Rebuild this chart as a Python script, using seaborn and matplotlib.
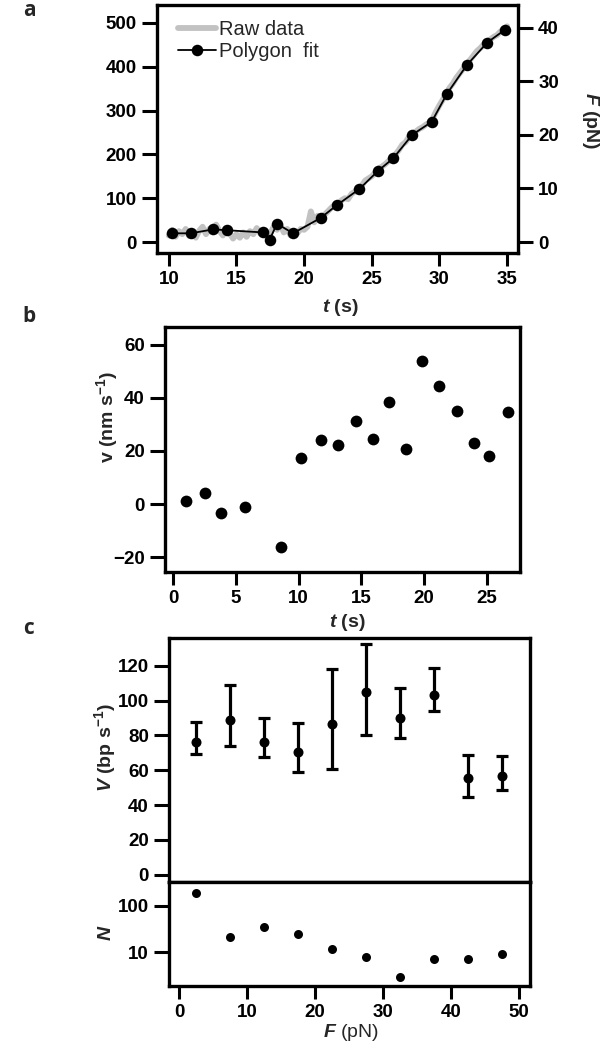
import numpy as np
import pandas as pd
import seaborn as sns
import matplotlib
matplotlib.use("Agg")
import matplotlib.pyplot as plt
from matplotlib.ticker import FixedLocator, NullLocator, FixedFormatter

# ---- panel a: raw trace and polygon fit ----
raw_t = [10.00, 10.25, 10.50, 10.75, 11.00, 11.25, 11.50, 11.75, 12.00, 12.25,
         12.50, 12.75, 13.00, 13.25, 13.50, 13.75, 14.00, 14.25, 14.50, 14.75,
         15.00, 15.25, 15.50, 15.75, 16.00, 16.25, 16.50, 16.75, 17.00, 17.25,
         17.50, 17.75, 18.00, 18.25, 18.50, 18.75, 19.00, 19.25, 19.50, 19.75,
         20.00, 20.25, 20.50, 20.75, 21.00, 21.25, 21.50, 21.75, 22.00, 22.25,
         22.50, 22.75, 23.00, 23.25, 23.50, 23.75, 24.00, 24.25, 24.50, 24.75,
         25.00, 25.25, 25.50, 25.75, 26.00, 26.25, 26.50, 26.75, 27.00, 27.25,
         27.50, 27.75, 28.00, 28.25, 28.50, 28.75, 29.00, 29.25, 29.50, 29.75,
         30.00, 30.25, 30.50, 30.75, 31.00, 31.25, 31.50, 31.75, 32.00, 32.25,
         32.50, 32.75, 33.00, 33.25, 33.50, 33.75, 34.00, 34.25, 34.50, 34.75,
         35.00]
raw_x = [15, 28, 12, 25, 18, 30, 14, 22, 10, 26,
         35, 18, 30, 22, 40, 25, 15, 32, 20, 8,
         18, 10, 22, 12, 25, 18, 32, 20, 28, 12,
         20, 35, 28, 40, 22, 30, 15, 25, 20, 30,
         28, 35, 70, 45, 60, 48, 62, 70, 78, 85,
         82, 95, 100, 98, 110, 115, 122, 128, 140, 145,
         150, 158, 168, 172, 178, 185, 192, 200, 210, 222,
         228, 240, 248, 252, 258, 262, 268, 272, 282, 298,
         312, 325, 340, 352, 362, 375, 385, 395, 405, 415,
         425, 435, 442, 450, 458, 462, 468, 472, 480, 486,
         492]
fit_t = [10.26, 11.62, 13.29, 14.31, 16.97, 17.45, 17.99, 19.18, 21.22, 22.41,
         24.08, 25.45, 26.58, 28.00, 29.42, 30.55, 32.03, 33.53, 34.83]
fit_x = [20, 20, 29, 27, 22, 5, 42, 20, 55, 84,
         121, 162, 191, 245, 274, 338, 404, 455, 484]

# ---- panel b: velocity vs time ----
vel_t = [0.98, 2.51, 3.83, 5.70, 8.58, 10.20, 11.80, 13.17, 14.61, 15.90,
         17.22, 18.57, 19.88, 21.20, 22.67, 24.02, 25.18, 26.72]
vel_v = [1.3, 4.1, -3.5, -1.1, -16.1, 17.2, 24.2, 22.1, 31.4, 24.6,
         38.4, 20.6, 54.0, 44.6, 35.2, 23.1, 18.0, 34.7]

# ---- panel c: mean velocity vs force, with counts ----
force = [2.5, 7.5, 12.5, 17.5, 22.5, 27.5, 32.5, 37.5, 42.5, 47.5]
speed = [76.1, 88.6, 76.5, 70.7, 86.7, 105.0, 90.2, 103.5, 55.3, 56.8]
speed_lo = [69.4, 74.2, 67.4, 58.8, 60.7, 80.0, 78.4, 93.8, 44.7, 48.7]
speed_hi = [87.7, 108.9, 90.0, 86.9, 117.9, 132.6, 107.3, 118.8, 69.0, 68.2]
counts = [191, 21, 35, 25, 12, 8, 3, 7, 7, 9]

sns.set_style("ticks")
plt.rcParams.update({
    "font.family": ["Liberation Sans", "DejaVu Sans"],
    "font.weight": "bold",
    "font.size": 13.5,
    "axes.labelweight": "bold",
    "mathtext.fontset": "custom",
    "mathtext.rm": "Liberation Sans:bold",
    "mathtext.bf": "Liberation Sans:bold",
    "mathtext.it": "Liberation Sans:italic:bold",
    "mathtext.sf": "Liberation Sans:italic",
    "axes.linewidth": 2.4,
    "axes.edgecolor": "black",
    "xtick.major.size": 9,
    "ytick.major.size": 10.5,
    "xtick.major.width": 2.2,
    "ytick.major.width": 2.2,
    "xtick.major.pad": 4,
    "ytick.major.pad": 4,
    "xtick.color": "black",
    "ytick.color": "black",
    "xtick.labelsize": 13.5,
    "ytick.labelsize": 13.5,
})

fig = plt.figure(figsize=(6.01, 10.5), dpi=100)
LABEL_SIZE = 14


def frame(ax):
    for s in ax.spines.values():
        s.set_visible(True)
        s.set_linewidth(2.4)
        s.set_color("black")


# ---------------- panel a ----------------
ax_a = fig.add_axes([0.2612, 0.759, 0.6007, 0.236])
df_raw = pd.DataFrame({"t": raw_t, "x": raw_x})
df_fit = pd.DataFrame({"t": fit_t, "x": fit_x})
sns.lineplot(data=df_raw, x="t", y="x", ax=ax_a, color="#c2c2c2", lw=4.2,
             label="Raw data")
sns.lineplot(data=df_fit, x="t", y="x", ax=ax_a, color="black", lw=1.3,
             marker="o", markersize=8.3, markeredgewidth=0, label="Polygon  fit")
ax_a.set_xlim(9.13, 35.8)
ax_a.set_ylim(-25, 540)
ax_a.set_xticks([10, 15, 20, 25, 30, 35])
ax_a.set_yticks([0, 100, 200, 300, 400, 500])
ax_a.set_xlabel("$t$ (s)", fontsize=LABEL_SIZE)
ax_a.xaxis.set_label_coords(0.507, -0.218)
ax_a.xaxis.label.set_va("center")
ax_a.set_ylabel("")
frame(ax_a)
ax_a.legend(loc="upper left", bbox_to_anchor=(0.047, 0.956), frameon=False,
            prop={"weight": "normal", "size": 14.5},
            handlelength=1.9, handletextpad=0.15, labelspacing=0.15,
            borderaxespad=0.0, borderpad=0.2)

ax_a2 = ax_a.twinx()
ax_a2.set_ylim(-2.05, 44.15)
ax_a2.set_yticks([0, 10, 20, 30, 40])
ax_a2.tick_params(axis="y", length=10.5, width=2.2)
for s in ax_a2.spines.values():
    s.set_visible(False)
ax_a2.set_ylabel("$F$ (pN)", rotation=270, fontsize=LABEL_SIZE)
ax_a2.yaxis.set_label_coords(1.2, 0.536)
ax_a2.yaxis.label.set_va("center")

# ---------------- panel b ----------------
ax_b = fig.add_axes([0.2745, 0.4552, 0.5907, 0.2333])
df_vel = pd.DataFrame({"t": vel_t, "v": vel_v})
sns.scatterplot(data=df_vel, x="t", y="v", ax=ax_b, color="black", s=72,
                linewidth=0)
ax_b.set_xlim(-0.67, 27.67)
ax_b.set_ylim(-25.65, 66.7)
ax_b.set_xticks([0, 5, 10, 15, 20, 25])
ax_b.set_yticks([-20, 0, 20, 40, 60])
ax_b.set_xlabel("$t$ (s)", fontsize=LABEL_SIZE)
ax_b.xaxis.set_label_coords(0.513, -0.204)
ax_b.xaxis.label.set_va("center")
ax_b.set_ylabel("v (nm s$^{-1}$)", fontsize=LABEL_SIZE)
ax_b.yaxis.set_label_coords(-0.163, 0.633)
ax_b.yaxis.label.set_va("center")
frame(ax_b)

# ---------------- panel c ----------------
ax_c = fig.add_axes([0.2812, 0.16, 0.6007, 0.2324])
ax_n = fig.add_axes([0.2812, 0.061, 0.6007, 0.099], sharex=ax_c)
df_c = pd.DataFrame({"F": force, "V": speed, "N": counts})
err = [np.array(speed) - np.array(speed_lo), np.array(speed_hi) - np.array(speed)]
ax_c.errorbar(force, speed, yerr=err, fmt="none", ecolor="black",
              elinewidth=2.3, capsize=4, capthick=2.3, clip_on=True)
sns.scatterplot(data=df_c, x="F", y="V", ax=ax_c, color="black", s=52,
                linewidth=0, zorder=3)
ax_c.set_ylim(-4.2, 136)
ax_c.set_yticks([0, 20, 40, 60, 80, 100, 120])
ax_c.tick_params(axis="x", bottom=False, labelbottom=False)
ax_c.set_xlabel("")
ax_c.set_ylabel("$V$ (bp s$^{-1}$)", fontsize=LABEL_SIZE)
ax_c.yaxis.set_label_coords(-0.176, 0.549)
ax_c.yaxis.label.set_va("center")
frame(ax_c)

sns.scatterplot(data=df_c, x="F", y="N", ax=ax_n, color="black", s=42,
                linewidth=0)
ax_n.set_yscale("log")
ax_n.set_ylim(1.88, 327)
ax_n.yaxis.set_major_locator(FixedLocator([10, 100]))
ax_n.yaxis.set_major_formatter(FixedFormatter(["10", "100"]))
ax_n.yaxis.set_minor_locator(NullLocator())
ax_n.set_xlim(-1.47, 51.58)
ax_n.set_xticks([0, 10, 20, 30, 40, 50])
ax_n.set_xlabel("$\\mathsf{F}$ (pN)", fontsize=LABEL_SIZE, fontweight="normal")
ax_n.xaxis.set_label_coords(0.504, -0.452)
ax_n.xaxis.label.set_va("center")
ax_n.set_ylabel("$N$", fontsize=LABEL_SIZE)
ax_n.yaxis.set_label_coords(-0.172, 0.51)
ax_n.yaxis.label.set_va("center")
frame(ax_n)

# panel letters
for lab, yy in [("a", 10), ("b", 316), ("c", 629)]:
    fig.text(29 / 601, 1 - yy / 1050, lab, ha="center", va="center",
             family=["Open Sans", "DejaVu Sans"], fontweight="bold", fontsize=15)

fig.savefig("out.png", dpi=100)
